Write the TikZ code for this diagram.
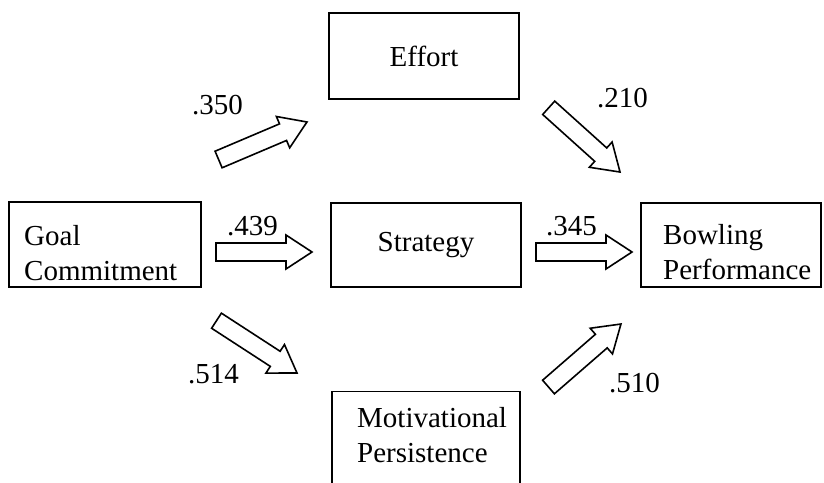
\documentclass[tikz,border=0pt]{standalone}
\usepackage{fontspec}
\setmainfont{Liberation Serif}
\begin{document}
\begin{tikzpicture}[x=1pt,y=-1pt,
  every node/.style={font=\fontsize{29}{35}\selectfont},
  box/.style={draw, line width=1.3pt, rectangle, inner sep=0pt},
  txt/.style={anchor=north west, align=left, inner sep=0pt},
  val/.style={anchor=base west, inner sep=0pt},
  barrow/.pic={\draw[line width=1.6pt, line join=miter] (0,-9) -- (70,-9) -- (70,-17) -- (96,0) -- (70,17) -- (70,9) -- (0,9) -- cycle;}
]
\clip (0,0) rectangle (824,482);
\useasboundingbox (0,0) rectangle (824,482);
% boxes
\node[box, minimum width=190pt, minimum height=86pt] (effort) at (424,56) {Effort};
\node[box, minimum width=190pt, minimum height=84pt] (strategy) at (426,245) {\raisebox{0pt}{Strategy}};
\node[box, minimum width=192pt, minimum height=85pt] (goal) at (105,244.5) {};
\node[txt] (goaltext) at (24,225) {Goal\\Commitment};
\node[box, minimum width=180pt, minimum height=84pt] (bowling) at (731,245) {};
\node[txt] (bowlingtext) at (663,224) {Bowling\\Performance};
\node[box, minimum width=188pt, minimum height=110pt, anchor=north] (motiv) at (426,391) {};
\node[txt] (motivtext) at (357,407) {Motivational\\Persistence};
% block arrows
\pic[rotate=23] at (218.6,159.5) {barrow};
\pic at (216,252) {barrow};
\pic[rotate=-33] at (216.5,320.7) {barrow};
\pic[rotate=-42] at (548.7,107.8) {barrow};
\pic at (536,252) {barrow};
\pic[rotate=41] at (548.5,387) {barrow};
% values
\node[val] (v350) at (192,114) {.350};
\node[val] (v439) at (227,235) {.439};
\node[val] (v514) at (188,383) {.514};
\node[val] (v210) at (597,107) {.210};
\node[val] (v345) at (546,235) {.345};
\node[val] (v510) at (609,392) {.510};
\end{tikzpicture}
\end{document}
